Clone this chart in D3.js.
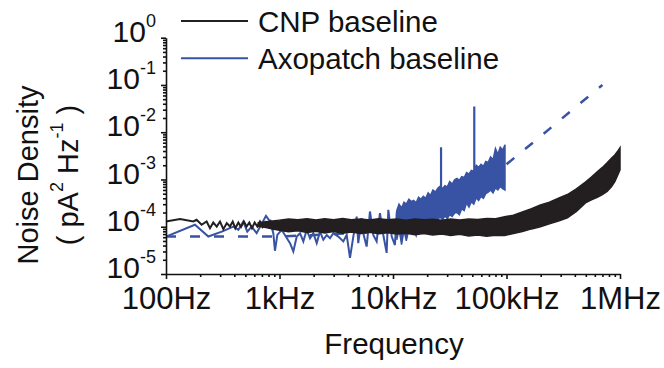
<!DOCTYPE html>
<html><head><meta charset="utf-8">
<script src="https://cdn.jsdelivr.net/npm/d3@7"></script>
<style>
html,body{margin:0;padding:0;background:#fff;}
svg{display:block;font-family:"Liberation Sans",Arial,sans-serif;}
</style></head>
<body>
<svg id="chart" width="664" height="368"></svg>
<script>
// ---- data ----
const xTickValues = [100, 1000, 10000, 100000, 1000000];
const xTickLabels = ["100Hz", "1kHz", "10kHz", "100kHz", "1MHz"];
const yTickValues = [1e-5, 1e-4, 1e-3, 1e-2, 1e-1, 1];
const yTickExponents = ["-5", "-4", "-3", "-2", "-1", "0"];
const seriesNames = ["CNP baseline", "Axopatch baseline"];

// CNP baseline, sparse low-frequency part
const cnpLowFreq = [100,133,174,186,206,228,244,261,280,299,320,343,366,387,408,434,458,486,513,542,572,604,638,673,711,751,793,837,882,932,984,1039,1095,1156];
const cnpLowVal  = [1.29e-4,1.45e-4,1.29e-4,1.40e-4,1.10e-4,1.29e-4,9.3e-5,1.23e-4,1.01e-4,1.29e-4,8.9e-5,1.19e-4,1.01e-4,1.29e-4,9.3e-5,1.23e-4,9.9e-5,1.29e-4,1.01e-4,1.23e-4,9.3e-5,1.23e-4,1.01e-4,1.29e-4,9.9e-5,1.23e-4,1.01e-4,1.29e-4,9.3e-5,1.23e-4,1.01e-4,1.29e-4,1.01e-4,1.23e-4];
// CNP baseline, dense part (envelope of the noise band)
const cnpBandFreq  = [650,760,870,1000,1200,1450,1750,2100,2500,3000,3600,4300,5200,6200,7500,9000,10800,13000,15600,18700,22400,26900,32300,38700,46400,55700,66800,80200,96200,115000,138000,166000,199000,239000,287000,344000,413000,496000,560000,630000,700000,770000,840000,900000,950000,1000000];
const cnpBandUpper = [1.22e-4,1.28e-4,1.33e-4,1.38e-4,1.46e-4,1.40e-4,1.48e-4,1.39e-4,1.47e-4,1.41e-4,1.49e-4,1.40e-4,1.46e-4,1.39e-4,1.48e-4,1.41e-4,1.46e-4,1.38e-4,1.45e-4,1.40e-4,1.44e-4,1.38e-4,1.45e-4,1.39e-4,1.46e-4,1.42e-4,1.50e-4,1.48e-4,1.62e-4,1.75e-4,2.05e-4,2.40e-4,2.90e-4,3.30e-4,4.00e-4,4.80e-4,6.30e-4,8.8e-4,1.12e-3,1.45e-3,1.80e-3,2.25e-3,2.80e-3,3.30e-3,3.90e-3,4.7e-3];
const cnpBandLower = [1.02e-4,9.6e-5,8.9e-5,8.4e-5,7.8e-5,8.2e-5,7.6e-5,8.0e-5,7.4e-5,7.9e-5,7.3e-5,7.7e-5,7.2e-5,7.6e-5,7.1e-5,7.5e-5,7.0e-5,7.3e-5,6.8e-5,7.2e-5,6.7e-5,7.0e-5,6.5e-5,6.9e-5,6.4e-5,6.7e-5,6.3e-5,6.6e-5,6.5e-5,7.2e-5,7.9e-5,9.0e-5,1.0e-4,1.15e-4,1.32e-4,1.55e-4,2.1e-4,3.2e-4,3.7e-4,4.2e-4,4.8e-4,5.6e-4,7.0e-4,9.0e-4,1.2e-3,1.6e-3];

// Axopatch baseline, sparse part
const axoFreq = [100,180,236,310,392,434,480,520,569,629,760,825,882,912,957,1045,1238,1324,1419,1517,1622,1738,1858,1987,2128,2275,2433,2606,2786,2980,3298,3648,3908,4179,4470,4787,4943,5294,5470,5859,6266,6701,7176,7674,8216,8790,9094,9743,10400,10800];
const axoVal  = [6.2e-5,1.10e-4,6.2e-5,7.9e-5,1.01e-4,8.6e-5,1.29e-4,7.9e-5,1.01e-4,7.3e-5,1.70e-4,1.29e-4,7.3e-5,3.1e-5,6.7e-5,8.6e-5,4.5e-5,3.0e-5,6.2e-5,7.3e-5,4.9e-5,8.6e-5,5.7e-5,7.3e-5,4.5e-5,7.9e-5,5.3e-5,6.7e-5,5.7e-5,7.3e-5,6.2e-5,4.9e-5,6.7e-5,2.2e-5,6.2e-5,1.64e-4,4.5e-5,1.52e-4,7.3e-5,3.8e-5,2.1e-4,6.7e-5,4.9e-5,1.94e-4,6.7e-5,2.8e-5,2.28e-4,6.2e-5,4.1e-5,2.1e-4];
// Axopatch baseline, dense part (envelope)
const axoBandFreq  = [10800,11300,11900,12500,13100,13800,14500,15200,16000,16800,17600,18500,19400,20400,21400,22500,23600,24800,26000,27300,28700,30100,31600,33200,34900,36600,38400,40300,42400,44500,46700,49000,51500,54100,56800,59600,62600,65700,69000,72500,76100,79900,83900,88100,92500,97000];
const axoBandUpper = [2.2e-4,3.0e-4,2.5e-4,3.3e-4,3.0e-4,3.8e-4,3.4e-4,3.6e-4,3.2e-4,4.2e-4,3.8e-4,4.4e-4,4.0e-4,5.2e-4,4.6e-4,6.0e-4,5.4e-4,6.5e-4,7.2e-4,6.4e-4,7.4e-4,7.0e-4,9.0e-4,8.0e-4,9.8e-4,1.05e-3,9.6e-4,1.15e-3,1.10e-3,1.40e-3,1.30e-3,1.55e-3,1.50e-3,2.0e-3,1.8e-3,2.1e-3,1.9e-3,2.4e-3,2.3e-3,3.0e-3,2.6e-3,4.5e-3,3.4e-3,4.8e-3,4.2e-3,5.4e-3];
const axoBandLower = [5.3e-5,9.0e-5,4.2e-5,8.5e-5,5.0e-5,9.0e-5,7.5e-5,9.5e-5,6.5e-5,1.0e-4,8.5e-5,1.05e-4,9.0e-5,1.15e-4,1.0e-4,1.3e-4,1.15e-4,1.45e-4,1.6e-4,1.4e-4,1.7e-4,1.5e-4,1.8e-4,1.65e-4,1.95e-4,2.0e-4,1.8e-4,2.4e-4,2.2e-4,3.2e-4,2.6e-4,3.4e-4,3.0e-4,4.1e-4,3.6e-4,4.4e-4,4.0e-4,5.0e-4,5.4e-4,6.0e-4,5.2e-4,6.6e-4,6.0e-4,7.2e-4,6.4e-4,6.0e-4];
// Axopatch line spikes
const axoSpikeFreq = [26500, 52000];
const axoSpikeBase = [4.0e-4, 1.5e-3];
const axoSpikePeak = [4.8e-3, 3.5e-2];
// Axopatch fit (dashed)
const fitFreq = [100, 1000, 10000, 30000, 100000, 200000, 400000, 700000];
const fitVal  = [6.2e-5, 6.2e-5, 8.0e-5, 2.4e-4, 2.1e-3, 8.2e-3, 3.3e-2, 1.0e-1];

// ---- drawing ----
const BLACK = "#231f20", BLUE = "#3953a4", INK = "#111";
const svg = d3.select("#chart");
const x = d3.scaleLog().domain([100, 1e6]).range([166, 620]);
const y = d3.scaleLog().domain([1e-5, 1]).range([274, 37.7]);

const line = d3.line().x(d => x(d[0])).y(d => y(d[1]));
const area = d3.area().x(d => x(d[0])).y0(d => y(d[1])).y1(d => y(d[2]));

const plot = svg.append("g");
plot.append("path").datum(fitFreq.map((f,i)=>[f, fitVal[i]]))
  .attr("d", line).attr("fill","none").attr("stroke",BLUE)
  .attr("stroke-width",2.5).attr("stroke-dasharray","10,14");
plot.append("path").datum(axoFreq.map((f,i)=>[f, axoVal[i]]))
  .attr("d", line).attr("fill","none").attr("stroke",BLUE)
  .attr("stroke-width",2);
plot.append("path").datum(axoBandFreq.map((f,i)=>[f, axoBandLower[i], axoBandUpper[i]]))
  .attr("d", area).attr("fill",BLUE).attr("stroke",BLUE).attr("stroke-width",1.5);
plot.selectAll("line.spike").data(axoSpikeFreq).join("line").attr("class","spike")
  .attr("x1", d=>x(d)).attr("x2", d=>x(d))
  .attr("y1", (d,i)=>y(axoSpikeBase[i])).attr("y2", (d,i)=>y(axoSpikePeak[i]))
  .attr("stroke",BLUE).attr("stroke-width",2.2);
plot.append("path").datum(cnpBandFreq.map((f,i)=>[f, cnpBandLower[i], cnpBandUpper[i]]))
  .attr("d", area).attr("fill",BLACK).attr("stroke",BLACK).attr("stroke-width",1.5);
plot.append("path").datum(cnpLowFreq.map((f,i)=>[f, cnpLowVal[i]]))
  .attr("d", line).attr("fill","none").attr("stroke",BLACK).attr("stroke-width",2);

// minor tick values
const xMinor = [], yMinor = [];
for (let e = 2; e < 6; e++) for (let k = 2; k <= 9; k++) xMinor.push(k * Math.pow(10, e));
for (let e = -5; e < 0; e++) for (let k = 2; k <= 9; k++) yMinor.push(k * Math.pow(10, e));

// axes
const xAxisG = svg.append("g").attr("transform","translate(0,274)");
xAxisG.append("g").call(d3.axisBottom(x).tickValues(xMinor).tickSize(3).tickFormat(""))
  .call(g=>g.select(".domain").remove());
xAxisG.append("g").call(d3.axisBottom(x).tickValues(xTickValues).tickSize(5).tickSizeOuter(0)
    .tickPadding(8).tickFormat((d,i)=>xTickLabels[i]));
const yAxisG = svg.append("g").attr("transform","translate(166,0)");
yAxisG.append("g").call(d3.axisLeft(y).tickValues(yMinor).tickSize(3).tickFormat(""))
  .call(g=>g.select(".domain").remove());
const yMajor = yAxisG.append("g").call(d3.axisLeft(y).tickValues(yTickValues).tickSize(5).tickSizeOuter(0).tickFormat(""));
yMajor.selectAll(".tick").append("text")
  .attr("x", -10).attr("dy","0.37em").attr("fill",INK).attr("text-anchor","end")
  .each(function(d,i){
    const t = d3.select(this);
    t.append("tspan").attr("font-size",30).text("10");
    t.append("tspan").attr("font-size",18).attr("dy",-15).text(yTickExponents[i]);
  });
svg.selectAll(".domain, .tick line").attr("stroke",INK).attr("stroke-width",1.6);
xAxisG.selectAll("text").attr("font-size",31).attr("fill",INK)
  .attr("font-family","'Liberation Sans',Arial,sans-serif");
yAxisG.selectAll("text").attr("font-family","'Liberation Sans',Arial,sans-serif");

// axis titles
svg.append("text").attr("x",394).attr("y",354).attr("text-anchor","middle")
  .attr("font-size",29.5).attr("fill",INK).text("Frequency");
svg.append("text").attr("transform","translate(38,175) rotate(-90)").attr("text-anchor","middle")
  .attr("font-size",29).attr("fill",INK).text("Noise Density");
const t2 = svg.append("text").attr("transform","translate(78,175) rotate(-90)").attr("text-anchor","middle")
  .attr("font-size",29).attr("fill",INK);
t2.append("tspan").text("( pA");
t2.append("tspan").attr("font-size",18).attr("dy",-15).text("2");
t2.append("tspan").attr("dy",15).text(" Hz");
t2.append("tspan").attr("font-size",18).attr("dy",-15).text("-1");
t2.append("tspan").attr("dy",15).text(" )");

// legend
const legend = svg.append("g");
const legColors = [BLACK, BLUE];
legend.selectAll("line").data(seriesNames).join("line")
  .attr("x1",181).attr("x2",248).attr("y1",(d,i)=>21+i*37.3).attr("y2",(d,i)=>21+i*37.3)
  .attr("stroke",(d,i)=>legColors[i]).attr("stroke-width",2);
legend.selectAll("text").data(seriesNames).join("text")
  .attr("x",258).attr("y",(d,i)=>31.5+i*37.3).attr("font-size",29.5).attr("fill",INK).text(d=>d);
</script>
</body></html>
